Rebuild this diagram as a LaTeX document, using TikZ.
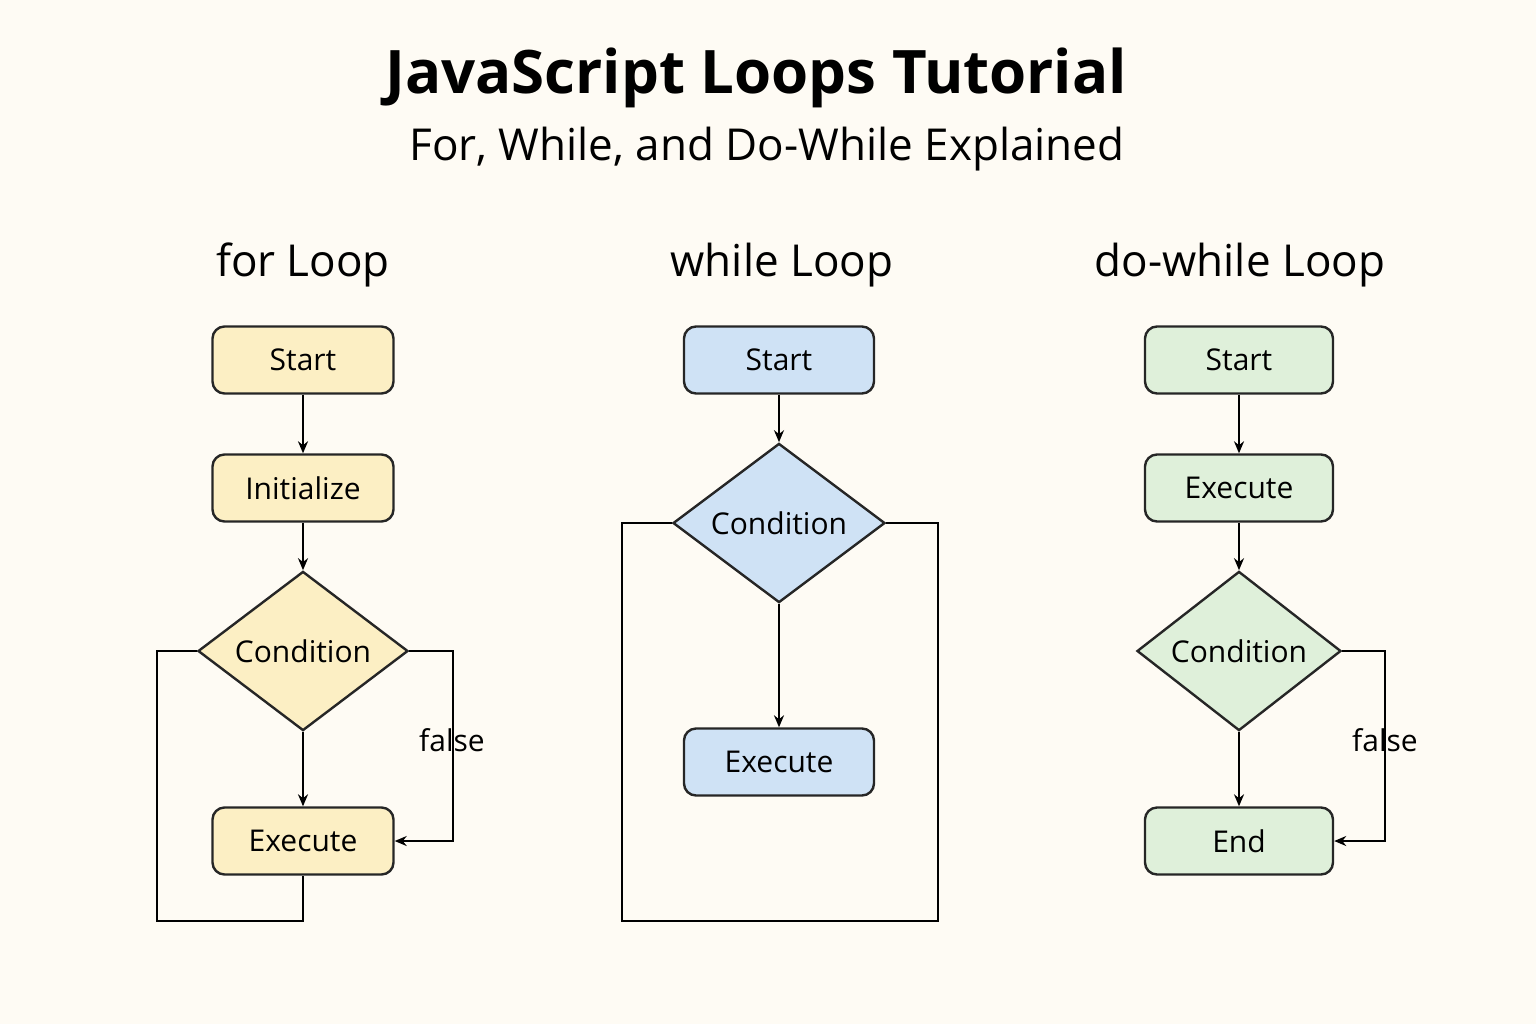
\documentclass[tikz,border=0pt]{standalone}
\usepackage{fontspec}
\setmainfont{Open Sans}
\usetikzlibrary{shapes.geometric,arrows.meta}
\definecolor{bg}{HTML}{FEFBF4}
\definecolor{fy}{HTML}{FCEFC4}
\definecolor{fb}{HTML}{CFE2F5}
\definecolor{fg}{HTML}{DFF0DA}
\tikzset{
 box/.style={draw=black!85,line width=1.2pt,rounded corners=6pt,minimum width=90.5pt,minimum height=33.5pt,inner sep=0pt,font=\fontsize{15}{18}\selectfont},
 dia/.style={draw=black!85,line width=1.2pt,diamond,minimum width=105pt,minimum height=71pt,inner sep=0pt,font=\fontsize{15}{18}\selectfont},
 ar/.style={line width=1pt,-{Stealth[length=6pt,width=5pt]}},
 ln/.style={line width=1pt},
 hd/.style={font=\fontsize{22}{26}\selectfont},
 lb/.style={font=\fontsize{15}{18}\selectfont}
}
\begin{document}
\begin{tikzpicture}[x=0.5pt,y=-0.5pt]
\fill[bg] (0,0) rectangle (1536,1024);
\useasboundingbox (0,0) rectangle (1536,1024);
\node[font=\fontsize{30}{36}\selectfont\bfseries] (t) at (756,78) {JavaScript Loops Tutorial};
\node[font=\fontsize{22}{26}\selectfont] (st) at (767,149) {For, While, and Do-While Explained};
\node[hd] (h1) at (303,265) {for Loop};
\node[hd] (h2) at (782,265) {while Loop};
\node[hd] (h3) at (1240,265) {do-while Loop};
% for
\node[box,fill=fy] (s1) at (303,360) {Start};
\node[box,fill=fy] (i1) at (303,488) {Initialize};
\node[dia,fill=fy] (c1) at (303,651) {Condition};
\node[box,fill=fy] (e1) at (303,841) {Execute};
\draw[ar] (s1) -- (i1);
\draw[ar] (i1) -- (c1);
\draw[ar] (c1) -- (e1);
\draw[ln] (c1.west) -- (157,651) -- (157,921) -- (303,921) -- (e1.south);
\draw[ar] (c1.east) -- (453,651) -- (453,841) -- (e1.east);
\node[lb] (f1) at (452,740) {false};
% while
\node[box,fill=fb,minimum width=95pt] (s2) at (779,360) {Start};
\node[dia,fill=fb,minimum width=106pt] (c2) at (779,523) {Condition};
\node[box,fill=fb,minimum width=95pt] (e2) at (779,762) {Execute};
\draw[ar] (s2) -- (c2);
\draw[ar] (c2) -- (e2);
\draw[ln] (c2.west) -- (622,523) -- (622,921) -- (938,921) -- (938,523) -- (c2.east);
% do-while
\node[box,fill=fg,minimum width=94pt] (s3) at (1239,360) {Start};
\node[box,fill=fg,minimum width=94pt] (e3) at (1239,488) {Execute};
\node[dia,fill=fg,minimum width=102pt] (c3) at (1239,651) {Condition};
\node[box,fill=fg,minimum width=94pt] (n3) at (1239,841) {End};
\draw[ar] (s3) -- (e3);
\draw[ar] (e3) -- (c3);
\draw[ar] (c3) -- (n3);
\draw[ar] (c3.east) -- (1385,651) -- (1385,841) -- (n3.east);
\node[lb] (f3) at (1385,740) {false};
\end{tikzpicture}
\end{document}
